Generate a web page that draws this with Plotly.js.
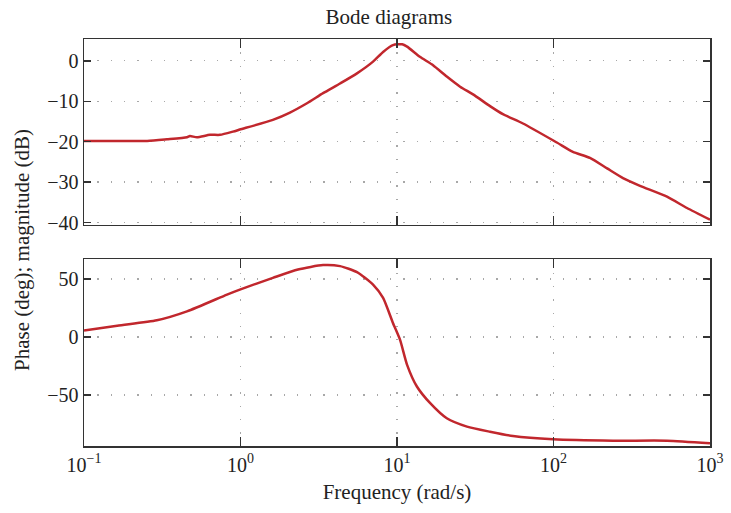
<!DOCTYPE html>
<html>
<head>
<meta charset="utf-8">
<script src="https://cdn.plot.ly/plotly-3.0.1.min.js"></script>
<style>html,body{margin:0;padding:0;background:#fff;}#chart{width:731px;height:513px;}</style>
</head>
<body>
<div id="chart"></div>
<script>
// Magnitude (dB) vs frequency (rad/s)
const magFreq = [0.1, 0.253, 0.339, 0.455, 0.475, 0.527, 0.638, 0.740, 0.895, 0.99, 1.61, 2.07, 2.66, 3.37, 4.33, 5.55, 7.03, 8.15, 9.42, 10.8, 11.6, 14.0, 17.0, 20.8, 25.3, 30.6, 39.3, 47.5, 63.8, 105, 133, 171, 220, 278, 357, 531, 713, 1000];
const magDb   = [-19.8, -19.8, -19.4, -18.9, -18.6, -18.9, -18.3, -18.3, -17.5, -17.0, -14.6, -12.8, -10.5, -8.0, -5.6, -3.1, -0.2, 2.2, 3.9, 4.1, 3.5, 1.0, -1.1, -3.9, -6.4, -8.3, -11.2, -13.2, -15.5, -20.2, -22.5, -24.0, -26.6, -29.0, -30.9, -33.6, -36.4, -39.3];
// Phase (deg) vs frequency (rad/s)
const phFreq = [0.1, 0.163, 0.292, 0.455, 0.820, 0.99, 1.61, 2.33, 3.37, 4.33, 5.55, 7.03, 8.15, 9.42, 10.45, 11.6, 13.4, 16.3, 20.8, 28.0, 39.3, 55.1, 99.3, 240, 531, 1000];
const phDeg  = [5.5, 9.8, 14.4, 22.1, 36.6, 40.9, 51.0, 58.2, 62.0, 61.1, 55.9, 45.2, 33.7, 12.1, -2.3, -24.0, -42.7, -57.1, -70.1, -77.3, -81.7, -85.4, -88.2, -89.4, -89.4, -91.7];
// Tick labels
const xTickVals = [0.1, 1, 10, 100, 1000];
const xTickText = ['10<sup>−1</sup>', '10<sup>0</sup>', '10<sup>1</sup>', '10<sup>2</sup>', '10<sup>3</sup>'];
const magTicks = [-40, -30, -20, -10, 0];
const phTicks = [-50, 0, 50];

const lineColor = '#c1272d';
const frame = '#333333';
const gridCol = '#a8a8a8';
const font = 'Liberation Serif, Times New Roman, serif';

const traces = [
  {x: magFreq, y: magDb, xaxis: 'x2', yaxis: 'y2', mode: 'lines', line: {color: lineColor, width: 2.5, shape: 'spline', smoothing: 0.6}, hoverinfo: 'skip'},
  {x: phFreq, y: phDeg, xaxis: 'x', yaxis: 'y', mode: 'lines', line: {color: lineColor, width: 2.5, shape: 'spline', smoothing: 0.6}, hoverinfo: 'skip'}
];

const xCommon = {
  type: 'log', range: [-1, 3], tickvals: xTickVals, ticktext: xTickText,
  showline: true, linecolor: frame, linewidth: 1.5, mirror: 'ticks',
  ticks: 'inside', ticklen: 9, tickwidth: 1.5, tickcolor: frame,
  showgrid: true, gridcolor: gridCol, gridwidth: 1.3, griddash: '1.3px,12px',
  zeroline: false, tickfont: {family: font, size: 20, color: '#222'}
};
const yCommon = {
  showline: true, linecolor: frame, linewidth: 1.5, mirror: 'ticks',
  ticks: 'inside', ticklen: 7, tickwidth: 1.5, tickcolor: frame,
  showgrid: true, gridcolor: gridCol, gridwidth: 1.3, griddash: '1.3px,12px',
  zeroline: false, tickfont: {family: font, size: 20, color: '#222'}
};

const layout = {
  width: 731, height: 513,
  margin: {l: 84, r: 21, t: 39, b: 67},
  paper_bgcolor: '#fff', plot_bgcolor: '#fff',
  showlegend: false,
  font: {family: font, size: 20, color: '#222'},
  title: {text: 'Bode diagrams', x: 0.487, xref: 'paper', xanchor: 'center', y: 1 - 17/513, yanchor: 'middle', font: {family: font, size: 21, color: '#222'}},
  xaxis: Object.assign({}, xCommon, {anchor: 'y', domain: [0, 1], title: {text: 'Frequency (rad/s)', standoff: 10, font: {family: font, size: 21, color: '#222'}}}),
  xaxis2: Object.assign({}, xCommon, {anchor: 'y2', domain: [0, 1], matches: 'x', showticklabels: false}),
  yaxis: Object.assign({}, yCommon, {domain: [0, 0.4587], range: [-94, 67], tickvals: phTicks}),
  yaxis2: Object.assign({}, yCommon, {domain: [0.543, 1], range: [-40.6, 5.4], tickvals: magTicks}),
  annotations: [{
    text: 'Phase (deg); magnitude (dB)', textangle: -90, xref: 'paper', yref: 'paper',
    x: -0.099, y: 0.4816, xanchor: 'center', yanchor: 'middle', showarrow: false,
    font: {family: font, size: 21, color: '#222'}
  }]
};

Plotly.newPlot('chart', traces, layout, {staticPlot: true, displayModeBar: false});
</script>
</body>
</html>
